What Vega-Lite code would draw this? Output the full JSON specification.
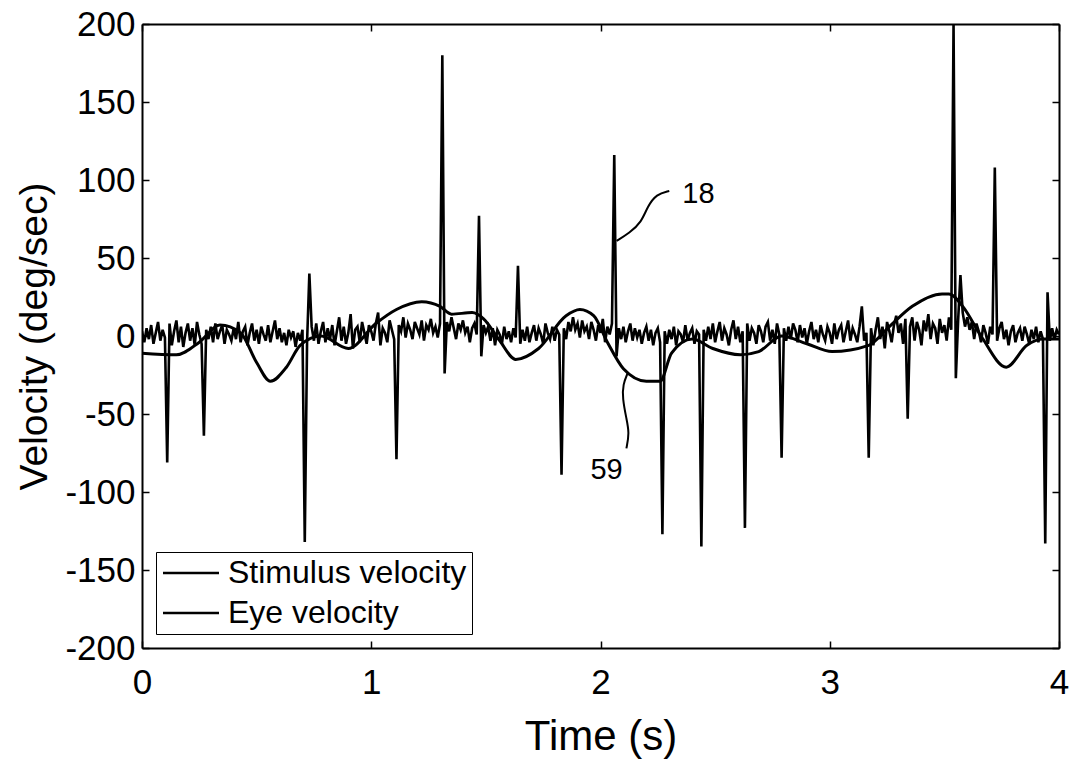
{
  "$schema": "https://vega.github.io/schema/vega-lite/v6.json",
  "width": 917,
  "height": 624,
  "autosize": {"type": "none"},
  "padding": {"left": 142, "top": 24, "right": 15, "bottom": 119},
  "background": "white",
  "config": {
    "font": "Liberation Sans",
    "view": {"stroke": null},
    "axis": {
      "grid": false,
      "domainColor": "black",
      "domainWidth": 2,
      "tickColor": "black",
      "tickWidth": 1.5,
      "tickSize": -7,
      "labelColor": "black",
      "titleColor": "black",
      "labelFlush": false,
      "labelFont": "Liberation Sans",
      "titleFont": "Liberation Sans",
      "titleFontWeight": "normal"
    }
  },
  "datasets": {
    "eye": [
      {"t":0.00,"v":3},{"t":0.01,"v":-4},{"t":0.02,"v":5},{"t":0.03,"v":-2},{"t":0.04,"v":7},{"t":0.05,"v":-5},{"t":0.06,"v":2},{"t":0.07,"v":9},{"t":0.08,"v":-3},{"t":0.09,"v":4},
      {"t":0.10,"v":-1},{"t":0.11,"v":-81},{"t":0.12,"v":8},{"t":0.13,"v":-6},{"t":0.14,"v":3},{"t":0.15,"v":10},{"t":0.16,"v":-4},{"t":0.17,"v":6},{"t":0.18,"v":-7},{"t":0.19,"v":2},
      {"t":0.20,"v":8},{"t":0.21,"v":-3},{"t":0.22,"v":5},{"t":0.23,"v":-6},{"t":0.24,"v":9},{"t":0.25,"v":1},{"t":0.26,"v":-5},{"t":0.27,"v":-64},{"t":0.28,"v":4},{"t":0.29,"v":-2},
      {"t":0.30,"v":6},{"t":0.31,"v":-4},{"t":0.32,"v":8},{"t":0.33,"v":-2},{"t":0.34,"v":3},{"t":0.35,"v":7},{"t":0.36,"v":-5},{"t":0.37,"v":4},{"t":0.38,"v":1},{"t":0.39,"v":-3},
      {"t":0.40,"v":5},{"t":0.41,"v":-2},{"t":0.42,"v":9},{"t":0.43,"v":-4},{"t":0.44,"v":3},{"t":0.45,"v":6},{"t":0.46,"v":-6},{"t":0.47,"v":2},{"t":0.48,"v":8},{"t":0.49,"v":-3},
      {"t":0.50,"v":4},{"t":0.51,"v":-5},{"t":0.52,"v":6},{"t":0.53,"v":1},{"t":0.54,"v":-3},{"t":0.55,"v":7},{"t":0.56,"v":-4},{"t":0.57,"v":3},{"t":0.58,"v":10},{"t":0.59,"v":-2},
      {"t":0.60,"v":5},{"t":0.61,"v":-4},{"t":0.62,"v":2},{"t":0.63,"v":-6},{"t":0.64,"v":4},{"t":0.65,"v":-1},{"t":0.66,"v":3},{"t":0.67,"v":-7},{"t":0.68,"v":2},{"t":0.69,"v":-3},
      {"t":0.70,"v":4},{"t":0.71,"v":-132},{"t":0.72,"v":-4},{"t":0.73,"v":40},{"t":0.74,"v":6},{"t":0.75,"v":-3},{"t":0.76,"v":8},{"t":0.77,"v":-5},{"t":0.78,"v":3},{"t":0.79,"v":9},
      {"t":0.80,"v":-4},{"t":0.81,"v":5},{"t":0.82,"v":-2},{"t":0.83,"v":7},{"t":0.84,"v":-6},{"t":0.85,"v":3},{"t":0.86,"v":12},{"t":0.87,"v":-3},{"t":0.88,"v":6},{"t":0.89,"v":-5},
      {"t":0.90,"v":2},{"t":0.91,"v":14},{"t":0.92,"v":-8},{"t":0.93,"v":4},{"t":0.94,"v":6},{"t":0.95,"v":-4},{"t":0.96,"v":9},{"t":0.97,"v":2},{"t":0.98,"v":-5},{"t":0.99,"v":7},
      {"t":1.00,"v":3},{"t":1.01,"v":-3},{"t":1.02,"v":8},{"t":1.03,"v":15},{"t":1.04,"v":-6},{"t":1.05,"v":5},{"t":1.06,"v":2},{"t":1.07,"v":-4},{"t":1.08,"v":10},{"t":1.09,"v":4},
      {"t":1.10,"v":-2},{"t":1.11,"v":-79},{"t":1.12,"v":7},{"t":1.13,"v":3},{"t":1.14,"v":12},{"t":1.15,"v":-1},{"t":1.16,"v":8},{"t":1.17,"v":4},{"t":1.18,"v":-2},{"t":1.19,"v":9},
      {"t":1.20,"v":5},{"t":1.21,"v":1},{"t":1.22,"v":10},{"t":1.23,"v":-3},{"t":1.24,"v":7},{"t":1.25,"v":4},{"t":1.26,"v":11},{"t":1.27,"v":2},{"t":1.28,"v":6},{"t":1.29,"v":-1},
      {"t":1.30,"v":8},{"t":1.31,"v":180},{"t":1.32,"v":-24},{"t":1.33,"v":9},{"t":1.34,"v":3},{"t":1.35,"v":12},{"t":1.36,"v":5},{"t":1.37,"v":-2},{"t":1.38,"v":8},{"t":1.39,"v":4},
      {"t":1.40,"v":10},{"t":1.41,"v":2},{"t":1.42,"v":6},{"t":1.43,"v":-4},{"t":1.44,"v":5},{"t":1.45,"v":8},{"t":1.46,"v":1},{"t":1.47,"v":77},{"t":1.48,"v":-13},{"t":1.49,"v":7},
      {"t":1.50,"v":2},{"t":1.51,"v":6},{"t":1.52,"v":-3},{"t":1.53,"v":5},{"t":1.54,"v":-6},{"t":1.55,"v":4},{"t":1.56,"v":1},{"t":1.57,"v":-5},{"t":1.58,"v":6},{"t":1.59,"v":-2},
      {"t":1.60,"v":3},{"t":1.61,"v":-4},{"t":1.62,"v":5},{"t":1.63,"v":-1},{"t":1.64,"v":45},{"t":1.65,"v":-5},{"t":1.66,"v":4},{"t":1.67,"v":-3},{"t":1.68,"v":6},{"t":1.69,"v":-4},
      {"t":1.70,"v":2},{"t":1.71,"v":7},{"t":1.72,"v":-3},{"t":1.73,"v":5},{"t":1.74,"v":1},{"t":1.75,"v":-5},{"t":1.76,"v":8},{"t":1.77,"v":2},{"t":1.78,"v":-2},{"t":1.79,"v":6},
      {"t":1.80,"v":-3},{"t":1.81,"v":4},{"t":1.82,"v":1},{"t":1.83,"v":-89},{"t":1.84,"v":5},{"t":1.85,"v":-2},{"t":1.86,"v":9},{"t":1.87,"v":3},{"t":1.88,"v":12},{"t":1.89,"v":4},
      {"t":1.90,"v":8},{"t":1.91,"v":-1},{"t":1.92,"v":10},{"t":1.93,"v":3},{"t":1.94,"v":6},{"t":1.95,"v":-2},{"t":1.96,"v":9},{"t":1.97,"v":4},{"t":1.98,"v":-3},{"t":1.99,"v":7},
      {"t":2.00,"v":2},{"t":2.01,"v":11},{"t":2.02,"v":-4},{"t":2.03,"v":6},{"t":2.04,"v":1},{"t":2.05,"v":8},{"t":2.06,"v":116},{"t":2.07,"v":-13},{"t":2.08,"v":5},{"t":2.09,"v":-2},
      {"t":2.10,"v":6},{"t":2.11,"v":-4},{"t":2.12,"v":3},{"t":2.13,"v":8},{"t":2.14,"v":-3},{"t":2.15,"v":5},{"t":2.16,"v":-1},{"t":2.17,"v":4},{"t":2.18,"v":-5},{"t":2.19,"v":2},
      {"t":2.20,"v":6},{"t":2.21,"v":-3},{"t":2.22,"v":4},{"t":2.23,"v":-6},{"t":2.24,"v":2},{"t":2.25,"v":5},{"t":2.26,"v":-4},{"t":2.27,"v":-127},{"t":2.28,"v":3},{"t":2.29,"v":-5},
      {"t":2.30,"v":4},{"t":2.31,"v":-2},{"t":2.32,"v":6},{"t":2.33,"v":-6},{"t":2.34,"v":3},{"t":2.35,"v":1},{"t":2.36,"v":-4},{"t":2.37,"v":7},{"t":2.38,"v":-3},{"t":2.39,"v":2},
      {"t":2.40,"v":5},{"t":2.41,"v":-5},{"t":2.42,"v":3},{"t":2.43,"v":1},{"t":2.44,"v":-135},{"t":2.45,"v":4},{"t":2.46,"v":-3},{"t":2.47,"v":6},{"t":2.48,"v":-2},{"t":2.49,"v":8},
      {"t":2.50,"v":-4},{"t":2.51,"v":3},{"t":2.52,"v":9},{"t":2.53,"v":-3},{"t":2.54,"v":5},{"t":2.55,"v":1},{"t":2.56,"v":-6},{"t":2.57,"v":4},{"t":2.58,"v":10},{"t":2.59,"v":-2},
      {"t":2.60,"v":6},{"t":2.61,"v":-4},{"t":2.62,"v":3},{"t":2.63,"v":-123},{"t":2.64,"v":8},{"t":2.65,"v":-3},{"t":2.66,"v":5},{"t":2.67,"v":2},{"t":2.68,"v":-5},{"t":2.69,"v":7},
      {"t":2.70,"v":3},{"t":2.71,"v":-4},{"t":2.72,"v":6},{"t":2.73,"v":9},{"t":2.74,"v":-3},{"t":2.75,"v":4},{"t":2.76,"v":-5},{"t":2.77,"v":8},{"t":2.78,"v":1},{"t":2.79,"v":-78},
      {"t":2.80,"v":5},{"t":2.81,"v":-3},{"t":2.82,"v":6},{"t":2.83,"v":-2},{"t":2.84,"v":8},{"t":2.85,"v":4},{"t":2.86,"v":-4},{"t":2.87,"v":7},{"t":2.88,"v":-1},{"t":2.89,"v":5},
      {"t":2.90,"v":-5},{"t":2.91,"v":3},{"t":2.92,"v":9},{"t":2.93,"v":-2},{"t":2.94,"v":4},{"t":2.95,"v":-4},{"t":2.96,"v":7},{"t":2.97,"v":1},{"t":2.98,"v":-3},{"t":2.99,"v":6},
      {"t":3.00,"v":2},{"t":3.01,"v":-5},{"t":3.02,"v":8},{"t":3.03,"v":-2},{"t":3.04,"v":4},{"t":3.05,"v":7},{"t":3.06,"v":-4},{"t":3.07,"v":3},{"t":3.08,"v":10},{"t":3.09,"v":-3},
      {"t":3.10,"v":5},{"t":3.11,"v":1},{"t":3.12,"v":-4},{"t":3.13,"v":6},{"t":3.14,"v":19},{"t":3.15,"v":-3},{"t":3.16,"v":2},{"t":3.17,"v":-78},{"t":3.18,"v":5},{"t":3.19,"v":-6},
      {"t":3.20,"v":4},{"t":3.21,"v":12},{"t":3.22,"v":-2},{"t":3.23,"v":6},{"t":3.24,"v":-8},{"t":3.25,"v":9},{"t":3.26,"v":3},{"t":3.27,"v":-4},{"t":3.28,"v":7},{"t":3.29,"v":13},
      {"t":3.30,"v":2},{"t":3.31,"v":8},{"t":3.32,"v":-5},{"t":3.33,"v":11},{"t":3.34,"v":-53},{"t":3.35,"v":6},{"t":3.36,"v":12},{"t":3.37,"v":-3},{"t":3.38,"v":9},{"t":3.39,"v":4},
      {"t":3.40,"v":-6},{"t":3.41,"v":10},{"t":3.42,"v":3},{"t":3.43,"v":14},{"t":3.44,"v":-2},{"t":3.45,"v":8},{"t":3.46,"v":5},{"t":3.47,"v":-5},{"t":3.48,"v":11},{"t":3.49,"v":2},
      {"t":3.50,"v":7},{"t":3.51,"v":-3},{"t":3.52,"v":12},{"t":3.53,"v":4},{"t":3.54,"v":200},{"t":3.55,"v":-27},{"t":3.56,"v":10},{"t":3.57,"v":39},{"t":3.58,"v":15},{"t":3.59,"v":6},
      {"t":3.60,"v":12},{"t":3.61,"v":4},{"t":3.62,"v":9},{"t":3.63,"v":-2},{"t":3.64,"v":8},{"t":3.65,"v":3},{"t":3.66,"v":-4},{"t":3.67,"v":7},{"t":3.68,"v":2},{"t":3.69,"v":-5},
      {"t":3.70,"v":6},{"t":3.71,"v":1},{"t":3.72,"v":108},{"t":3.73,"v":-3},{"t":3.74,"v":5},{"t":3.75,"v":9},{"t":3.76,"v":-2},{"t":3.77,"v":4},{"t":3.78,"v":-6},{"t":3.79,"v":3},
      {"t":3.80,"v":7},{"t":3.81,"v":-4},{"t":3.82,"v":2},{"t":3.83,"v":5},{"t":3.84,"v":-3},{"t":3.85,"v":6},{"t":3.86,"v":1},{"t":3.87,"v":-5},{"t":3.88,"v":4},{"t":3.89,"v":-2},
      {"t":3.90,"v":6},{"t":3.91,"v":-4},{"t":3.92,"v":3},{"t":3.93,"v":-2},{"t":3.94,"v":-133},{"t":3.95,"v":28},{"t":3.96,"v":-3},{"t":3.97,"v":5},{"t":3.98,"v":-2},{"t":3.99,"v":4},
      {"t":4.00,"v":1}
    ],
    "stim": [
      {"t":0,"v":-11},{"t":0.15,"v":-12},{"t":0.25,"v":-4},{"t":0.34,"v":7},{"t":0.43,"v":2},{"t":0.5,"v":-17},{"t":0.56,"v":-29},{"t":0.63,"v":-20},{"t":0.69,"v":-6},{"t":0.78,"v":0},{"t":0.9,"v":-8},{"t":1.02,"v":8},{"t":1.11,"v":17},{"t":1.22,"v":22},{"t":1.3,"v":19},{"t":1.35,"v":14},{"t":1.44,"v":15},{"t":1.49,"v":11},{"t":1.56,"v":-3},{"t":1.63,"v":-15},{"t":1.73,"v":-8},{"t":1.85,"v":13},{"t":1.91,"v":17},{"t":1.97,"v":13},{"t":2.03,"v":-4},{"t":2.1,"v":-21},{"t":2.2,"v":-29},{"t":2.26,"v":-29},{"t":2.31,"v":-11},{"t":2.4,"v":-2},{"t":2.49,"v":-8},{"t":2.61,"v":-12},{"t":2.69,"v":-10},{"t":2.79,"v":0},{"t":2.9,"v":-5},{"t":3.01,"v":-10},{"t":3.17,"v":-6},{"t":3.26,"v":6},{"t":3.36,"v":19},{"t":3.49,"v":27},{"t":3.52,"v":27},{"t":3.58,"v":19},{"t":3.66,"v":0},{"t":3.77,"v":-20},{"t":3.86,"v":-6},{"t":3.93,"v":-2},{"t":4.0,"v":-2}
    ],
    "leaders": [
      {"id":"18","k":1,"t":2.07,"v":61},{"id":"18","k":2,"t":2.126,"v":66},{"id":"18","k":3,"t":2.179,"v":73},{"id":"18","k":4,"t":2.205,"v":83},{"id":"18","k":5,"t":2.244,"v":91},{"id":"18","k":6,"t":2.30,"v":93},
      {"id":"59","k":1,"t":2.118,"v":-24},{"id":"59","k":2,"t":2.098,"v":-31},{"id":"59","k":3,"t":2.096,"v":-40},{"id":"59","k":4,"t":2.113,"v":-53},{"id":"59","k":5,"t":2.126,"v":-62},{"id":"59","k":6,"t":2.113,"v":-72}
    ],
    "labels": [
      {"t":2.357,"v":91,"txt":"18"},{"t":1.956,"v":-86,"txt":"59"}
    ]
  },
  "layer": [
    {
      "data": {"name": "eye"},
      "mark": {"type": "line", "strokeWidth": 2.6, "strokeJoin": "miter", "clip": true},
      "encoding": {
        "x": {"field": "t", "type": "quantitative", "scale": {"domain": [0, 4], "nice": false},
              "axis": {"orient": "bottom", "values": [0,1,2,3,4], "labelExpr": "'' + datum.value", "labelFontSize": 35, "labelPadding": 24, "title": "Time (s)", "titleFontSize": 42, "titlePadding": 16}},
        "y": {"field": "v", "type": "quantitative", "scale": {"domain": [-200, 200], "nice": false},
              "axis": {"orient": "left", "values": [-200,-150,-100,-50,0,50,100,150,200], "labelExpr": "'' + datum.value", "labelFontSize": 35, "labelPadding": 14, "title": "Velocity (deg/sec)", "titleFontSize": 39, "titlePadding": 10}},
        "color": {"datum": "Eye velocity", "type": "nominal",
                  "scale": {"domain": ["Stimulus velocity", "Eye velocity"], "range": ["black", "black"]},
                  "legend": {"title": null, "orient": "bottom-left", "offset": 14, "symbolType": "M-1,0H3", "symbolSize": 784, "symbolStrokeWidth": 2.5, "labelFontSize": 32, "labelColor": "black", "labelLimit": 0, "labelOffset": 35, "strokeColor": "black", "padding": 5, "rowPadding": 8, "fillColor": "white", "cornerRadius": 0}}
      }
    },
    {
      "data": {"name": "stim"},
      "mark": {"type": "line", "strokeWidth": 3, "interpolate": "monotone"},
      "encoding": {
        "x": {"field": "t", "type": "quantitative", "axis": {"orient": "top", "values": [0,1,2,3,4], "labels": false, "title": null}},
        "y": {"field": "v", "type": "quantitative", "axis": {"orient": "right", "values": [-200,-150,-100,-50,0,50,100,150,200], "labels": false, "title": null}},
        "color": {"datum": "Stimulus velocity", "type": "nominal"}
      }
    },
    {
      "data": {"name": "leaders"},
      "mark": {"type": "line", "color": "black", "strokeWidth": 2, "interpolate": "basis"},
      "encoding": {
        "x": {"field": "t", "type": "quantitative", "axis": null},
        "y": {"field": "v", "type": "quantitative", "axis": null},
        "detail": {"field": "id"},
        "order": {"field": "k", "type": "quantitative"}
      }
    },
    {
      "data": {"name": "labels"},
      "mark": {"type": "text", "fontSize": 29, "color": "black", "align": "left", "baseline": "middle", "font": "Liberation Sans"},
      "encoding": {
        "x": {"field": "t", "type": "quantitative", "axis": null},
        "y": {"field": "v", "type": "quantitative", "axis": null},
        "text": {"field": "txt"}
      }
    }
  ],
  "resolve": {"axis": {"x": "independent", "y": "independent"}}
}
